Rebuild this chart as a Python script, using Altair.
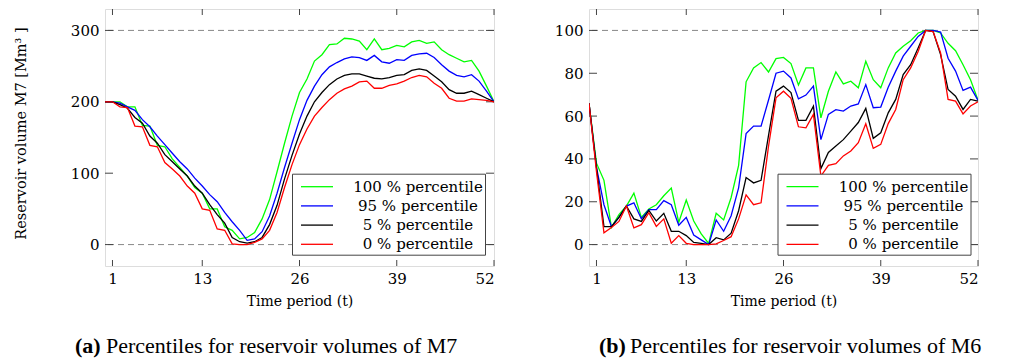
import altair as alt
import pandas as pd

# ---------------- data ----------------
t = list(range(53))
x_ticks = [1, 13, 26, 39, 52]
series_names = ["100 % percentile", "95 % percentile", "5 % percentile", "0 % percentile"]
series_colors = ["#00ff00", "#0000ff", "#000000", "#ff0000"]

# M7 (left panel)
m7_p100 = [200, 200, 200, 193, 193, 167, 166, 139, 137, 120,
           108, 96, 80, 72, 50, 50, 25, 20, 8, 10,
           17, 36, 63, 102, 142, 180, 213, 232, 257, 266,
           280, 281, 289, 288, 285, 273, 288, 273, 275, 279,
           277, 284, 286, 282, 284, 273, 266, 261, 256, 258,
           243, 222, 200]
m7_p95 = [200, 200, 198, 193, 188, 175, 165, 152, 140, 128,
          116, 106, 93, 82, 70, 60, 45, 32, 20, 6,
          8, 18, 40, 72, 108, 142, 175, 202, 222, 238,
          249, 255, 260, 263, 262, 258, 265, 256, 254, 259,
          258, 265, 267, 268, 262, 252, 243, 237, 235, 238,
          229, 215, 200]
m7_p5 = [200, 200, 196, 191, 178, 170, 152, 142, 126, 116,
         106, 96, 82, 72, 56, 42, 30, 10, 4, 2,
         4, 10, 28, 55, 92, 125, 155, 180, 200, 213,
         224, 232, 237, 239, 239, 236, 233, 232, 234, 237,
         238, 244, 246, 244, 236, 228, 217, 212, 212, 215,
         210, 205, 200]
m7_p0 = [200, 200, 193, 192, 166, 165, 139, 137, 115, 106,
         96, 82, 72, 50, 48, 22, 20, 1, 0, 0,
         3, 8, 20, 45, 80, 112, 140, 162, 180, 192,
         203, 212, 218, 222, 228, 229, 219, 219, 223, 225,
         229, 234, 237, 235, 226, 219, 205, 201, 201, 204,
         203, 202, 200]

# M6 (right panel)
m6_p100 = [66, 38, 30, 8, 14, 18, 24, 12.7, 16.6, 18.6,
           22.8, 26.4, 10.4, 20.8, 11, 5, 0.5, 14.6, 11.5, 22,
           37, 76, 82.5, 85, 80.6, 86.8, 87.4, 84.5, 74.5, 82.5,
           82.5, 59.2, 71.6, 80.6, 75, 76.3, 73.2, 85.6, 77, 73.2,
           82.5, 89.5, 92.6, 95.2, 98.8, 100, 100, 98.8, 94, 90.5,
           84, 77, 67.5]
m6_p95 = [66, 36, 18.6, 8.4, 12.7, 18, 19.5, 12, 16.3, 16.3,
          20.5, 18.6, 9, 12.7, 4.5, 2.2, 0, 11.5, 6.2, 13.5,
          26.5, 51.8, 55.3, 55.3, 67.5, 80, 81, 77.8, 68, 69.8,
          74, 49, 60.8, 63, 62.3, 64.7, 65.7, 74.7, 63.9, 64.2,
          73.5, 81, 88, 92.6, 97.2, 100, 100, 99.2, 87, 81,
          72, 73.5, 67.3]
m6_p5 = [66, 36, 8.4, 8.4, 12.7, 18, 12, 10.8, 16, 11,
         14.6, 6.2, 6.2, 4.2, 1, 0.6, 0, 3.2, 2.2, 5.3,
         15.8, 31.3, 28.8, 30, 51, 71.6, 74, 71, 58, 58,
         64.6, 35.5, 43, 46, 49, 53, 57, 63.6, 49.6, 52.2,
         61.5, 67.8, 79.4, 84, 91.8, 100, 99.5, 88.7, 72.4, 69.3,
         63.1, 67.8, 67]
m6_p0 = [66, 34, 5.5, 8, 10.8, 18, 7.8, 9.3, 14.9, 8.5,
         12, 0.6, 4.2, 0.6, 0, 0, 0, 0.3, 1.9, 3.7,
         12, 23.2, 18.6, 19.5, 46, 68.5, 71.6, 68.3, 55, 54.5,
         60.8, 32, 37, 37.8, 41.4, 43.7, 47.6, 56.4, 44.9, 46.8,
         56.5, 63.1, 77, 82.5, 90.2, 100, 99.5, 89.5, 67.8, 67,
         61, 64.7, 66.7]

m7_domain = [-30, 330]
m7_ticks = [0, 100, 200, 300]
m7_refs = [0, 300]
m6_domain = [-10, 110]
m6_ticks = [0, 20, 40, 60, 80, 100]
m6_refs = [0, 100]

cap_letters = ["(a)", "(b)"]
cap_texts = ["Percentiles for reservoir volumes of M7", "Percentiles for reservoir volumes of M6"]

# ---------------- style ----------------
W, H = 389, 257
AX_FONT = "DejaVu Serif"
CAP_FONT = "Liberation Serif"
FRAME = "#444444"


def long_df(arrs):
    rows = []
    for name, arr in zip(series_names, arrs):
        assert len(arr) == len(t)
        for ti, v in zip(t, arr):
            rows.append({"t": ti, "v": v, "s": name})
    return pd.DataFrame(rows)


def panel(arrs, ydom, yticks, refs, ytitle, legend_x, cap_idx, cap_x):
    df = long_df(arrs)
    xscale = alt.Scale(domain=[0, 52], nice=False, zero=False)
    yscale = alt.Scale(domain=ydom, nice=False, zero=False)

    yaxis_kw = dict(values=yticks, ticks=False, tickSize=0, domain=False, grid=False,
                    labelFont=AX_FONT, labelFontSize=15, labelPadding=6, labelColor="black")
    if ytitle:
        yaxis_kw.update(title=ytitle, titleFont=AX_FONT, titleFontSize=14.5, titleFontWeight="normal",
                        titleColor="black", titlePadding=42, titleY=124)
    else:
        yaxis_kw.update(title=None)

    x_enc = alt.X("t:Q", scale=xscale,
                  axis=alt.Axis(values=x_ticks, ticks=False, tickSize=0, domain=False, grid=False,
                                labelFont=AX_FONT, labelFontSize=15, labelPadding=5, labelColor="black",
                                title="Time period (t)", titleFont=AX_FONT, titleFontSize=14,
                                titleFontWeight="normal", titleColor="black", titlePadding=8))
    y_enc = alt.Y("v:Q", scale=yscale, axis=alt.Axis(**yaxis_kw))

    ref = alt.Chart(pd.DataFrame({"r": refs})).mark_rule(
        color="#888888", strokeDash=[6, 4], strokeWidth=1
    ).encode(y=alt.Y("r:Q", scale=yscale))

    lines = alt.Chart(df).mark_line(strokeWidth=1.3, clip=True).encode(
        x=x_enc, y=y_enc,
        color=alt.Color("s:N", sort=series_names,
                        scale=alt.Scale(domain=series_names, range=series_colors),
                        legend=alt.Legend(title=None, orient="none", legendX=legend_x, legendY=164.7,
                                          fillColor="white", strokeColor=FRAME, padding=2,
                                          symbolType="M-1.6,0H1.6", symbolSize=400,
                                          symbolStrokeWidth=1.3, symbolOffset=12,
                                          labelFont=AX_FONT, labelFontSize=15, labelColor="black",
                                          labelAlign="center", labelOffset=90, rowPadding=0.2,
                                          labelLimit=400,
                                          labelExpr="'\u2002\u2009' + datum.label + '\u2002\u2009'")),
        order=alt.Order("t:Q"),
    )

    xt = pd.DataFrame({"x": x_ticks})
    yt = pd.DataFrame({"y": yticks})
    tick_style = dict(color=FRAME, strokeWidth=1)
    xt_top = alt.Chart(xt).mark_rule(**tick_style).encode(
        x=alt.X("x:Q", scale=xscale), y=alt.value(0), y2=alt.value(6))
    xt_bot = alt.Chart(xt).mark_rule(**tick_style).encode(
        x=alt.X("x:Q", scale=xscale), y=alt.value(H - 6), y2=alt.value(H))
    yt_left = alt.Chart(yt).mark_rule(**tick_style).encode(
        y=alt.Y("y:Q", scale=yscale), x=alt.value(0), x2=alt.value(8))
    yt_right = alt.Chart(yt).mark_rule(**tick_style).encode(
        y=alt.Y("y:Q", scale=yscale), x=alt.value(W - 8), x2=alt.value(W))

    cap_df = pd.DataFrame({"l": [cap_letters[cap_idx]], "c": [cap_texts[cap_idx]]})
    cap_a = alt.Chart(cap_df).mark_text(align="left", baseline="middle", font=CAP_FONT,
                                        fontSize=22, fontWeight="bold", color="black").encode(
        text="l:N", x=alt.value(cap_x), y=alt.value(337))
    cap_b = alt.Chart(cap_df).mark_text(align="left", baseline="middle", font=CAP_FONT,
                                        fontSize=22, color="black").encode(
        text="c:N", x=alt.value(cap_x + 31), y=alt.value(337))

    return alt.layer(ref, xt_top, xt_bot, yt_left, yt_right, lines, cap_a, cap_b).properties(
        width=W, height=H)


left = panel([m7_p100, m7_p95, m7_p5, m7_p0], m7_domain, m7_ticks, m7_refs,
             "Reservoir volume M7 [Mm³ ]", 187, 0, -30)
right = panel([m6_p100, m6_p95, m6_p5, m6_p0], m6_domain, m6_ticks, m6_refs,
              None, 188.5, 1, 10)

chart = alt.hconcat(left, right, spacing=58).resolve_legend(color="independent").resolve_scale(
    color="independent").properties(
    padding={"left": 4, "top": 0, "right": 0, "bottom": 0}
).configure_view(stroke=FRAME, strokeWidth=1.2).configure(background="white")

chart.save("out.html", embed_options={"renderer": "svg", "actions": False})
